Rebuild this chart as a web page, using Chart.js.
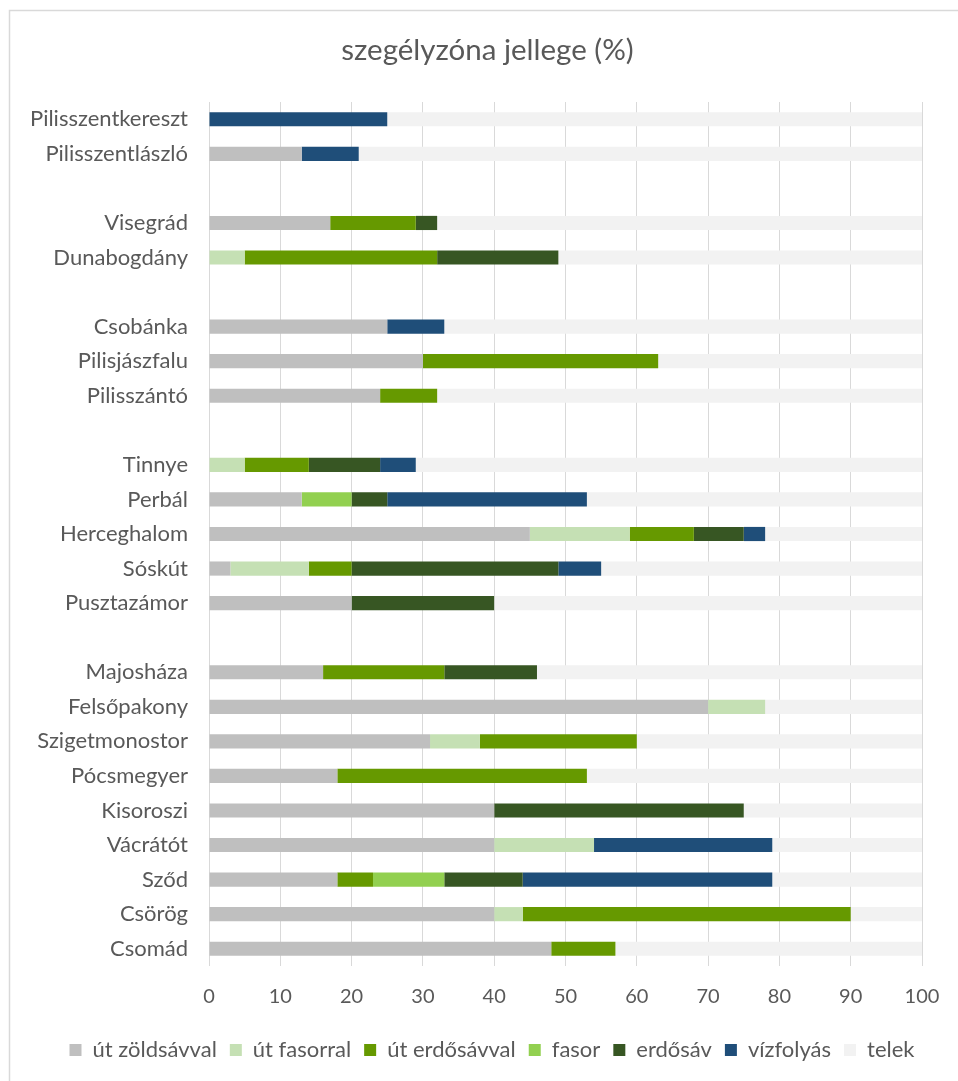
<!DOCTYPE html>
<html>
<head>
<meta charset="utf-8">
<script src="https://cdn.jsdelivr.net/npm/chart.js@4.4.1/dist/chart.umd.min.js"></script>
<style>
  html, body { margin: 0; padding: 0; background: #ffffff; }
  #wrap { position: relative; width: 958px; height: 1081px; }
</style>
</head>
<body>
<div id="wrap"><canvas id="c" width="958" height="1081"></canvas></div>
<script>
const categories = ['Pilisszentkereszt','Pilisszentlászló','','Visegrád','Dunabogdány','','Csobánka','Pilisjászfalu','Pilisszántó','','Tinnye','Perbál','Herceghalom','Sóskút','Pusztazámor','','Majosháza','Felsőpakony','Szigetmonostor','Pócsmegyer','Kisoroszi','Vácrátót','Sződ','Csörög','Csomád'];

const utZoldsavval = [0,13,null,17,0,null,25,30,24,null,0,13,45,3,20,null,16,70,31,18,40,40,18,40,48];
const utFasorral   = [0,0,null,0,5,null,0,0,0,null,5,0,14,11,0,null,0,8,7,0,0,14,0,4,0];
const utErdosavval = [0,0,null,12,27,null,0,33,8,null,9,0,9,6,0,null,17,0,22,35,0,0,5,46,9];
const fasor        = [0,0,null,0,0,null,0,0,0,null,0,7,0,0,0,null,0,0,0,0,0,0,10,0,0];
const erdosav      = [0,0,null,3,17,null,0,0,0,null,10,5,7,29,20,null,13,0,0,0,35,0,11,0,0];
const vizfolyas    = [25,8,null,0,0,null,8,0,0,null,5,28,3,6,0,null,0,0,0,0,0,25,35,0,0];
const telek        = [75,79,null,68,51,null,67,37,68,null,71,47,22,45,60,null,54,22,40,47,25,21,21,10,43];

const xTicks = [0,10,20,30,40,50,60,70,80,90,100];
const titleText = 'szegélyzóna jellege (%)';

const seriesNames = ['út zöldsávval','út fasorral','út erdősávval','fasor','erdősáv','vízfolyás','telek'];
const seriesData = [utZoldsavval, utFasorral, utErdosavval, fasor, erdosav, vizfolyas, telek];
const seriesColors = ['#BFBFBF','#C5E0B4','#669900','#92D050','#375623','#1F4E79','#F2F2F2'];

const FONT = 'Lato, "Open Sans", sans-serif';
const TXT = '#595959';

const framePlugin = {
  id: 'frame',
  afterLayout(chart) {
    // centre title and legend on the outer chart frame (which extends past the picture)
    if (chart.titleBlock) { chart.titleBlock.left += 26.5; chart.titleBlock.right += 26.5; }
    if (chart.legend) { chart.legend.left += 31; chart.legend.right += 31; }
  },
  beforeDraw(chart) {
    const ctx = chart.ctx;
    ctx.save();
    ctx.fillStyle = '#ffffff';
    ctx.fillRect(0, 0, chart.width, chart.height);
    ctx.strokeStyle = '#D9D9D9';
    ctx.lineWidth = 1.5;
    ctx.strokeRect(9.5, 10.5, chart.width + 20, chart.height + 20);
    ctx.restore();
  }
};

new Chart(document.getElementById('c'), {
  type: 'bar',
  data: {
    labels: categories,
    datasets: seriesNames.map((name, i) => ({
      label: name,
      data: seriesData[i],
      backgroundColor: seriesColors[i],
      borderWidth: 0,
      barPercentage: 0.41,
      categoryPercentage: 1.0
    }))
  },
  options: {
    indexAxis: 'y',
    responsive: false,
    animation: false,
    devicePixelRatio: 1,
    layout: { padding: { left: 0, right: 36, top: 0, bottom: 10 } },
    scales: {
      x: {
        stacked: true,
        min: 0, max: 100,
        afterBuildTicks(scale) { scale.ticks = xTicks.map(v => ({ value: v })); },
        afterFit(scale) { scale.height = 60; },
        grid: { color: '#D9D9D9', lineWidth: 1, drawTicks: true, tickLength: 19, tickColor: 'rgba(0,0,0,0)' },
        border: { display: false },
        ticks: { padding: 0, color: TXT, font: { family: FONT, size: 20 } }
      },
      y: {
        stacked: true,
        afterFit(scale) { scale.width = 209; },
        grid: { display: false, drawTicks: false },
        border: { display: false },
        ticks: { padding: 21, color: TXT, font: { family: FONT, size: 22 }, autoSkip: false }
      }
    },
    plugins: {
      title: {
        display: true,
        text: titleText,
        color: TXT,
        font: { family: FONT, size: 29.5, weight: 'normal', lineHeight: 1.2 },
        padding: { top: 32.3, bottom: 34.3 }
      },
      legend: {
        position: 'bottom',
        labels: {
          color: TXT,
          font: { family: FONT, size: 22 },
          boxWidth: 12,
          boxHeight: 12,
          padding: 13
        }
      },
      tooltip: { enabled: false }
    }
  },
  plugins: [framePlugin]
});
</script>
</body>
</html>
